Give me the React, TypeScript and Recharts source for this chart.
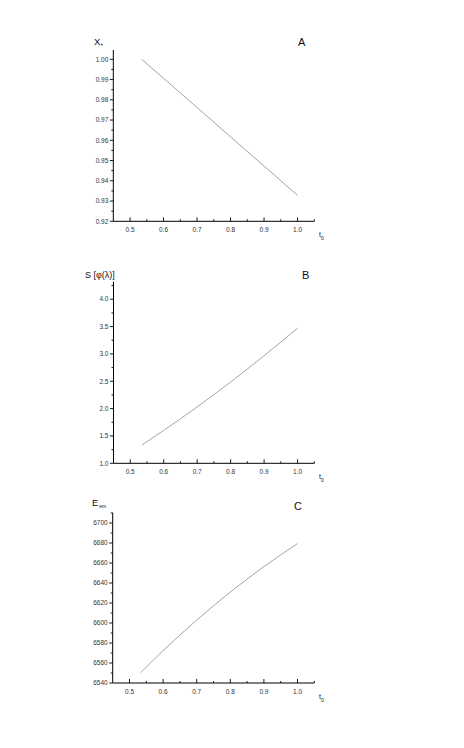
import React from "react";
import { LineChart, Line, XAxis, YAxis } from "recharts";

// ---- data ----
const tA = [0.535, 0.6, 0.7, 0.8, 0.9, 1.0];
const xA = [1.0, 0.9906, 0.9762, 0.9617, 0.9473, 0.9328];

const tB = [0.535, 0.6, 0.7, 0.8, 0.9, 1.0];
const sB = [1.335, 1.6015, 2.0315, 2.4865, 2.9665, 3.4715];

const tC = [0.533, 0.6, 0.7, 0.8, 0.9, 1.0];
const eC = [6550.3, 6572.4, 6602.9, 6630.9, 6656.4, 6679.4];

const xMajor = [0.5, 0.6, 0.7, 0.8, 0.9, 1.0];
const xMinor = [0.55, 0.65, 0.75, 0.85, 0.95, 1.05];

const yAMajor = [0.92, 0.93, 0.94, 0.95, 0.96, 0.97, 0.98, 0.99, 1.0];
const yAMinor = [0.925, 0.935, 0.945, 0.955, 0.965, 0.975, 0.985, 0.995];

const yBMajor = [1.0, 1.5, 2.0, 2.5, 3.0, 3.5, 4.0];
const yBMinor = [1.25, 1.75, 2.25, 2.75, 3.25, 3.75, 4.25];

const yCMajor = [6540, 6560, 6580, 6600, 6620, 6640, 6660, 6680, 6700];
const yCMinor = [6550, 6570, 6590, 6610, 6630, 6650, 6670, 6690, 6710];

const zip = (t: number[], v: number[]) => t.map((tt, i) => ({ t: tt, v: v[i] }));
const dataA = zip(tA, xA);
const dataB = zip(tB, sB);
const dataC = zip(tC, eC);

const FONT = "'Liberation Sans', Arial, sans-serif";
const TICK_COLOR = "#333";
const TICK_FS = 6.5;

const isIn = (arr: number[], v: number) => arr.some((m) => Math.abs(m - v) < 1e-7);

const makeYTick = (majors: number[], dec: number) => (p: any) => {
  const { x, y, payload } = p;
  const v = payload.value;
  const major = isIn(majors, v);
  return (
    <g>
      <line x1={x - (major ? 3.5 : 2)} x2={x} y1={y} y2={y} stroke="#000" strokeWidth={0.9} />
      {major && (
        <text x={x - 5} y={y} dy="0.35em" textAnchor="end" fontSize={TICK_FS} fontFamily={FONT} fill={TICK_COLOR}>
          {v.toFixed(dec)}
        </text>
      )}
    </g>
  );
};

const xTick = (p: any) => {
  const { x, y, payload } = p;
  const v = payload.value;
  const major = isIn(xMajor, v);
  return (
    <g>
      <line x1={x} x2={x} y1={y} y2={y - (major ? 4 : 2)} stroke="#000" strokeWidth={0.9} />
      {major && (
        <text x={x} y={y + 10.5} textAnchor="middle" fontSize={TICK_FS} fontFamily={FONT} fill={TICK_COLOR}>
          {v.toFixed(1)}
        </text>
      )}
    </g>
  );
};

const W = 464;
const H = 748;
const YW = 40;
const XH = 20;

type PanelProps = {
  data: { t: number; v: number }[];
  top: number;
  bottom: number;
  left: number;
  right: number;
  yDomain: [number, number];
  yTicks: number[];
  yMajors: number[];
  dec: number;
};

function Panel({ data, top, bottom, left, right, yDomain, yTicks, yMajors, dec }: PanelProps) {
  return (
    <div style={{ position: "absolute", left: 0, top: 0, width: W, height: H }}>
      <LineChart
        width={W}
        height={H}
        data={data}
        margin={{ top, bottom: H - bottom - XH, left: left - YW, right: W - right }}
      >
        <XAxis
          dataKey="t"
          type="number"
          domain={[0.45, 1.05]}
          ticks={[...xMajor, ...xMinor].sort((a, b) => a - b)}
          interval={0}
          height={XH}
          tickSize={0}
          tickMargin={0}
          tickLine={false}
          axisLine={{ stroke: "#000", strokeWidth: 1 }}
          tick={xTick}
          allowDataOverflow
        />
        <YAxis
          type="number"
          domain={yDomain}
          ticks={yTicks}
          interval={0}
          width={YW}
          tickSize={0}
          tickMargin={0}
          tickLine={false}
          axisLine={{ stroke: "#000", strokeWidth: 1 }}
          tick={makeYTick(yMajors, dec)}
          allowDataOverflow
        />
        <Line
          dataKey="v"
          type="monotone"
          stroke="#9a9a9a"
          strokeWidth={0.9}
          dot={false}
          isAnimationActive={false}
        />
      </LineChart>
    </div>
  );
}

export default function App() {
  const titleStyle = { fontFamily: FONT, fill: "#111" } as const;
  return (
    <div style={{ position: "absolute", left: 0, top: 0, width: W, height: H, background: "#fff" }}>
      <Panel
        data={dataA}
        top={50}
        bottom={221.3}
        left={113.3}
        right={314.3}
        yDomain={[0.92, 1.0046]}
        yTicks={[...yAMajor, ...yAMinor].sort((a, b) => a - b)}
        yMajors={yAMajor}
        dec={2}
      />
      <Panel
        data={dataB}
        top={281.7}
        bottom={463.3}
        left={113.5}
        right={314.3}
        yDomain={[1.0, 4.32]}
        yTicks={[...yBMajor, ...yBMinor].sort((a, b) => a - b)}
        yMajors={yBMajor}
        dec={1}
      />
      <Panel
        data={dataC}
        top={512.7}
        bottom={683}
        left={112.7}
        right={314.3}
        yDomain={[6540, 6710.3]}
        yTicks={[...yCMajor, ...yCMinor].sort((a, b) => a - b)}
        yMajors={yCMajor}
        dec={0}
      />
      <svg width={W} height={H} style={{ position: "absolute", left: 0, top: 0, pointerEvents: "none" }}>
        {/* Panel A */}
        <text x={94} y={45} fontSize={9.5} {...titleStyle}>
          X<tspan fontSize={5} dy={1}>+</tspan>
        </text>
        <text x={298} y={45.5} fontSize={11} {...titleStyle}>A</text>
        <text x={319} y={237} fontSize={7} {...titleStyle}>
          t<tspan fontSize={5} dy={3}>0</tspan>
        </text>
        {/* Panel B */}
        <text x={85} y={278} fontSize={9} {...titleStyle}>S [φ(λ)]</text>
        <text x={302} y={278.5} fontSize={11} {...titleStyle}>B</text>
        <text x={319} y={479} fontSize={7} {...titleStyle}>
          t<tspan fontSize={5} dy={3}>0</tspan>
        </text>
        {/* Panel C */}
        <text x={92} y={506} fontSize={9.5} {...titleStyle}>
          E<tspan fontSize={5} dy={2} dx={1}>em</tspan>
        </text>
        <text x={294} y={509.5} fontSize={11} {...titleStyle}>C</text>
        <text x={319} y={699} fontSize={7} {...titleStyle}>
          t<tspan fontSize={5} dy={3}>0</tspan>
        </text>
      </svg>
    </div>
  );
}
